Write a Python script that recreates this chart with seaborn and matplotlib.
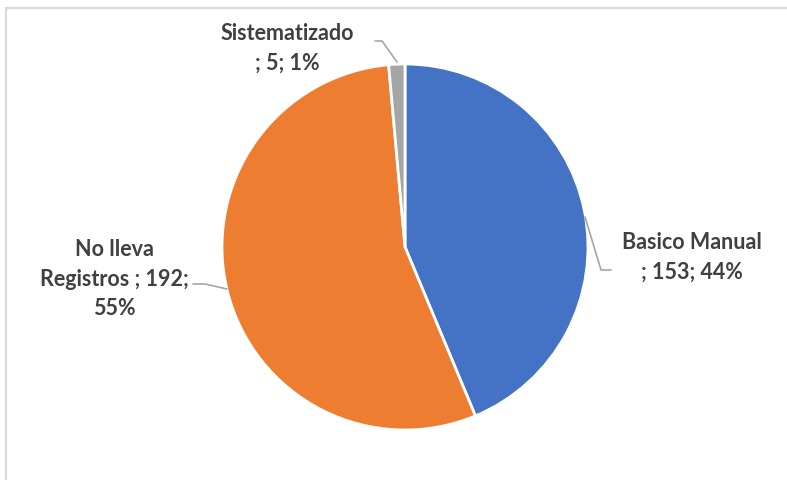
import matplotlib
matplotlib.use("Agg")
import matplotlib.pyplot as plt
import seaborn as sns
from matplotlib.patches import Rectangle

sns.set_theme(style="white")
plt.rcParams['font.family'] = ['Lato', 'DejaVu Sans']

categories = ["Basico Manual", "No lleva Registros", "Sistematizado"]
values = [153, 192, 5]
percents = [44, 55, 1]
colors = ["#4472C4", "#ED7D31", "#A5A5A5"]
label_texts = [
    f"Basico Manual\n; {values[0]}; {percents[0]}%",
    f"No lleva\nRegistros ; {values[1]};\n{percents[1]}%",
    f"Sistematizado\n; {values[2]}; {percents[2]}%",
]

W, H = 787, 481
fig = plt.figure(figsize=(W / 100, H / 100), dpi=100)
ax = fig.add_axes([0, 0, 1, 1])
ax.set_xlim(0, W)
ax.set_ylim(0, H)
ax.set_aspect("equal")
ax.axis("off")

# chart frame
fig.patches.append(Rectangle((6 / W, -0.1), 1.2, (H - 9) / H + 0.1, transform=fig.transFigure,
                             fill=False, edgecolor="#D9D9D9", linewidth=1.5))

cx, cy, r = 405, H - 248, 183
ax.pie(values, colors=colors, startangle=90, counterclock=False,
       center=(cx, cy), radius=r, frame=True,
       wedgeprops=dict(edgecolor="white", linewidth=2))
ax.set_xlim(0, W)
ax.set_ylim(0, H)
ax.axis("off")

tc = "#404040"
fs = 15.5
ls = 1.5
ax.text(692, H - 257, label_texts[0], ha="center", va="center", fontsize=fs,
        fontweight="bold", color=tc, linespacing=ls)
ax.text(114, H - 279, label_texts[1], ha="center", va="center", fontsize=fs,
        fontweight="bold", color=tc, linespacing=ls)
ax.text(287, H - 48, label_texts[2], ha="center", va="center", fontsize=fs,
        fontweight="bold", color=tc, linespacing=ls)

lc = "#A6A6A6"
ax.plot([585, 601, 611], [H - 218, H - 271, H - 271], color=lc, lw=1.2)
ax.plot([193, 205, 227], [H - 285, H - 285, H - 290], color=lc, lw=1.2)
ax.plot([375, 382, 397], [H - 42, H - 42, H - 63], color=lc, lw=1.2)

fig.savefig("out.png", dpi=100)
